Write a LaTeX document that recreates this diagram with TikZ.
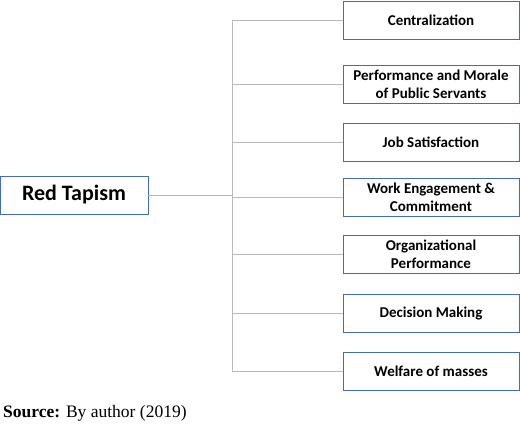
\documentclass[tikz,border=0pt]{standalone}
\usepackage{fontspec}
\setmainfont{Carlito}
\newfontfamily\srcfont{Liberation Serif}
\usetikzlibrary{positioning, calc}
\definecolor{boxblue}{RGB}{68, 108, 176}
\definecolor{linkgray}{RGB}{185, 185, 185}

\begin{document}
\begin{tikzpicture}[x=1pt, y=-1pt,
    factor/.style={draw=boxblue, line width=0.9pt, fill=white, align=center,
        minimum width=176pt, minimum height=38pt, inner sep=2pt,
        font=\fontsize{15}{18}\selectfont\bfseries},
    link/.style={draw=linkgray, line width=0.9pt}]
    \useasboundingbox (0,0) rectangle (520,424);

    % Main box
    \node[draw=boxblue, line width=0.9pt, minimum width=148pt, minimum height=38pt,
        font=\fontsize{22}{26}\selectfont\bfseries] (red) at (74,195) {Red Tapism};

    % Factor boxes
    \foreach \name/\y/\label in {
        cen/20/Centralization,
        perf/84/{Performance and Morale\\of Public Servants},
        job/142.5/Job Satisfaction,
        work/197/{Work Engagement \&\\Commitment},
        org/254.5/{Organizational\\Performance},
        dec/313.5/Decision Making,
        wel/371.5/Welfare of masses} {
        \node[factor] (\name) at (431,\y) {\label};
    }

    % Connectors
    \coordinate (trunk) at (232,195);
    \draw[link] (red.east) -- (trunk);
    \draw[link] (trunk |- cen.west) -- (trunk |- wel.west);
    \foreach \name in {cen, perf, job, work, org, dec, wel} {
        \draw[link] (trunk |- \name.west) -- (\name.west);
    }

    % Source line
    \node[anchor=base west, inner sep=0pt, font=\srcfont\fontsize{17.5}{20}\selectfont]
        (src) at (3,417) {\textbf{Source:} By author (2019)};
\end{tikzpicture}
\end{document}
